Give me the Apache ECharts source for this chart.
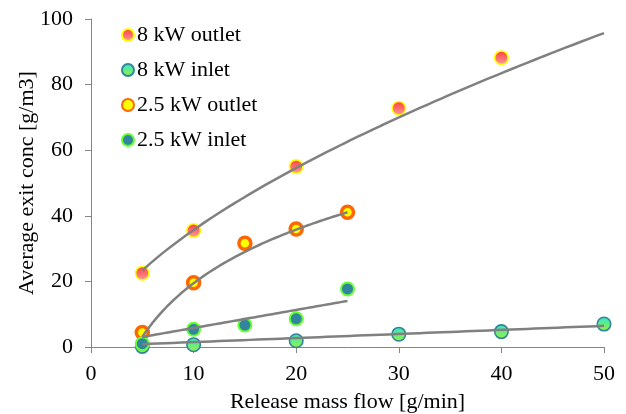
<!DOCTYPE html>
<html>
<head>
<meta charset="utf-8">
<script src="https://cdn.jsdelivr.net/npm/echarts@6/dist/echarts.min.js"></script>
<style>
  html, body { margin: 0; padding: 0; background: #fff; }
  #chart { width: 626px; height: 414px; }
</style>
</head>
<body>
<div id="chart"></div>
<script>
// Release mass flow [g/min] for each series
const flow8Outlet = [5, 10, 20, 30, 40];
const flow8Inlet = [5, 10, 20, 30, 40, 50];
const flow25 = [5, 10, 15, 20, 25];

// Average exit concentration [g/m3]
const conc8Outlet = [22.5, 35.5, 55.0, 72.8, 88.2];
const conc8Inlet = [0.2, 0.7, 1.9, 3.9, 4.7, 7.0];
const conc25Outlet = [4.4, 19.6, 31.6, 36.0, 41.1];
const conc25Inlet = [1.0, 5.4, 6.7, 8.6, 17.7];

// Trendline fits: [type, coefficient a, coefficient b, x from, x to]
// power: y = a*x^b, log: y = a*ln(x) + b, linear: y = a*x + b
const trend8Outlet = ['power', 8.7, 0.613, 5, 50];
const trend8Inlet = ['linear', 0.124, 0.25, 5, 50];
const trend25Outlet = ['log', 23.6, -34.9, 5, 25];
const trend25Inlet = ['linear', 0.55, 0.3, 5, 25];

const xTicks = [0, 10, 20, 30, 40, 50];
const yTicks = [0, 20, 40, 60, 80, 100];

const FONT = 'Liberation Serif';
const FONT_SIZE = 22;

function pairs(xs, ys) {
  return xs.map((x, i) => [x, ys[i]]);
}

function trendPoints(t) {
  const [kind, a, b, x0, x1] = t;
  const pts = [];
  const steps = 60;
  for (let i = 0; i <= steps; i++) {
    const x = x0 + (x1 - x0) * i / steps;
    let y;
    if (kind === 'power') y = a * Math.pow(x, b);
    else if (kind === 'log') y = a * Math.log(x) + b;
    else y = a * x + b;
    pts.push([x, y]);
  }
  return pts;
}

function vgrad(top, bottom) {
  return {
    type: 'linear', x: 0, y: 0, x2: 0, y2: 1,
    colorStops: [{ offset: 0, color: top }, { offset: 1, color: bottom }]
  };
}

function trendSeries(t) {
  return {
    type: 'line',
    data: trendPoints(t),
    showSymbol: false,
    symbol: 'none',
    silent: true,
    z: 5,
    lineStyle: { color: '#808080', width: 2.5 },
    legendHoverLink: false
  };
}

const chart = echarts.init(document.getElementById('chart'), null, { renderer: 'canvas' });

chart.setOption({
  animation: false,
  backgroundColor: '#ffffff',
  textStyle: { fontFamily: FONT },
  grid: { left: 91, right: 22, top: 19, bottom: 67, containLabel: false, outerBoundsMode: 'none' },
  legend: {
    orient: 'vertical',
    left: 116,
    top: 19,
    itemGap: 13,
    itemWidth: 12,
    itemHeight: 12,
    icon: 'circle',
    textStyle: { fontFamily: FONT, fontSize: FONT_SIZE, color: '#000', padding: [0, 0, 0, -2] },
    data: ['8 kW outlet', '8 kW inlet', '2.5 kW outlet', '2.5 kW inlet']
  },
  xAxis: {
    type: 'value',
    min: xTicks[0],
    max: xTicks[xTicks.length - 1],
    interval: xTicks[1] - xTicks[0],
    name: 'Release mass flow [g/min]',
    nameLocation: 'middle',
    nameGap: 44,
    nameMoveOverlap: false,
    nameTextStyle: { fontFamily: FONT, fontSize: FONT_SIZE, color: '#000' },
    axisLine: { show: true, lineStyle: { color: '#868686', width: 1 } },
    axisTick: { show: true, length: 6, lineStyle: { color: '#868686' } },
    axisLabel: { fontFamily: FONT, fontSize: FONT_SIZE, color: '#000', margin: 16 },
    splitLine: { show: false }
  },
  yAxis: {
    type: 'value',
    min: yTicks[0],
    max: yTicks[yTicks.length - 1],
    interval: yTicks[1] - yTicks[0],
    name: 'Average exit conc [g/m3]',
    nameLocation: 'middle',
    nameGap: 53,
    nameMoveOverlap: false,
    nameTextStyle: { fontFamily: FONT, fontSize: FONT_SIZE, color: '#000' },
    axisLine: { show: true, lineStyle: { color: '#868686', width: 1 } },
    axisTick: { show: true, length: 6, lineStyle: { color: '#868686' } },
    axisLabel: { fontFamily: FONT, fontSize: FONT_SIZE, color: '#000', margin: 18 },
    splitLine: { show: false }
  },
  series: [
    {
      name: '8 kW outlet',
      type: 'scatter',
      data: pairs(flow8Outlet, conc8Outlet),
      symbolSize: 13.5,
      z: 2,
      itemStyle: { color: vgrad('#ff3a3a', '#ff9f9f'), borderColor: '#ffff00', borderWidth: 1.6, opacity: 1 }
    },
    {
      name: '8 kW inlet',
      type: 'scatter',
      data: pairs(flow8Inlet, conc8Inlet),
      symbolSize: 13.5,
      z: 2,
      itemStyle: { color: vgrad('#2fe6d0', '#9af23a'), borderColor: '#31859c', borderWidth: 1.6, opacity: 1 }
    },
    {
      name: '2.5 kW outlet',
      type: 'scatter',
      data: pairs(flow25, conc25Outlet),
      symbolSize: 12,
      z: 3,
      itemStyle: { color: '#ffff00', borderColor: '#ff6600', borderWidth: 3.5, opacity: 1 }
    },
    {
      name: '2.5 kW inlet',
      type: 'scatter',
      data: pairs(flow25, conc25Inlet),
      symbolSize: 13,
      z: 4,
      itemStyle: { color: '#31859c', borderColor: '#66ff33', borderWidth: 2, opacity: 1 }
    },
    trendSeries(trend8Outlet),
    trendSeries(trend8Inlet),
    trendSeries(trend25Outlet),
    trendSeries(trend25Inlet)
  ]
});
</script>
</body>
</html>
